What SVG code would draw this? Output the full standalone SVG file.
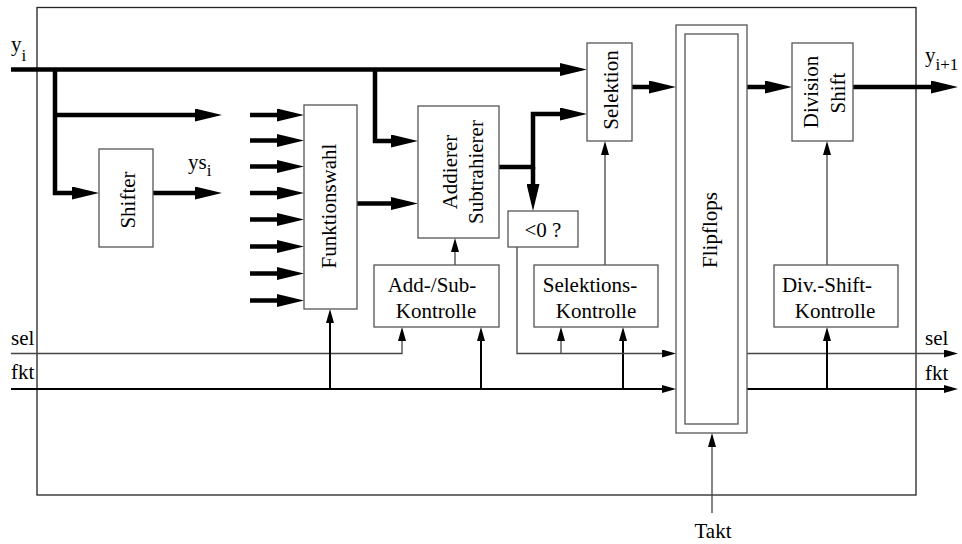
<svg xmlns="http://www.w3.org/2000/svg" width="962" height="544" viewBox="0 0 962 544">
<style>
text{font-family:"Liberation Serif","Times New Roman",serif;font-size:21px;fill:#000}
.sub{font-size:17px}
.box{fill:#fff;stroke:#555;stroke-width:1.3}
.bus{fill:none;stroke:#000;stroke-width:4.5;stroke-linejoin:miter}
.sig{fill:none;stroke:#444;stroke-width:1.3}
.fkt{fill:none;stroke:#000;stroke-width:2}
.m{text-anchor:middle}
</style>
<defs>
<marker id="ah" markerUnits="userSpaceOnUse" viewBox="0 0 27 13" markerWidth="27" markerHeight="13" refX="7" refY="6.5" orient="auto"><path d="M0,0 L27,6.5 L0,13 z" fill="#000"/></marker>
<marker id="at" markerUnits="userSpaceOnUse" viewBox="0 0 14 8" markerWidth="14" markerHeight="8" refX="4" refY="4" orient="auto"><path d="M0,0 L14,4 L0,8 z" fill="#000"/></marker>
</defs>
<rect id="frame" x="37" y="7.5" width="879" height="487.5" fill="none" stroke="#222" stroke-width="1.3"/>

<g id="connectors">
<path class="bus" marker-end="url(#ah)" d="M11,69.5 H567"/>
<path class="bus" marker-end="url(#ah)" d="M55,69.5 V193 H79"/>
<path class="bus" marker-end="url(#ah)" d="M55,115 H202"/>
<path class="bus" marker-end="url(#ah)" d="M153,193 H202"/>
<path class="bus" marker-end="url(#ah)" d="M250,115 H284"/>
<path class="bus" marker-end="url(#ah)" d="M250,140.5 H284"/>
<path class="bus" marker-end="url(#ah)" d="M250,166.5 H284"/>
<path class="bus" marker-end="url(#ah)" d="M250,193 H284"/>
<path class="bus" marker-end="url(#ah)" d="M250,219.5 H284"/>
<path class="bus" marker-end="url(#ah)" d="M250,246.5 H284"/>
<path class="bus" marker-end="url(#ah)" d="M250,273.5 H284"/>
<path class="bus" marker-end="url(#ah)" d="M250,300.5 H284"/>
<path class="bus" marker-end="url(#ah)" d="M357,203.5 H398"/>
<path class="bus" marker-end="url(#ah)" d="M375,69.5 V141 H398"/>
<path class="bus" marker-end="url(#ah)" d="M499,167 H533 V114 H567"/>
<path class="bus" marker-end="url(#ah)" d="M533,167 V191"/>
<path class="bus" marker-end="url(#ah)" d="M632,87 H656"/>
<path class="bus" marker-end="url(#ah)" d="M747,87 H772"/>
<path class="bus" marker-end="url(#ah)" d="M853,87 H938"/>

<path class="sig" marker-end="url(#at)" d="M11,353.5 H402 V337"/>
<path class="fkt" marker-end="url(#at)" d="M11,389 H666"/>
<path class="fkt" marker-end="url(#at)" d="M330,389 V319"/>
<path class="fkt" marker-end="url(#at)" d="M481,389 V337"/>
<path class="fkt" marker-end="url(#at)" d="M623,389 V337"/>
<path class="sig" marker-end="url(#at)" d="M517,247 V353.5 H666"/>
<path class="sig" marker-end="url(#at)" d="M561,353.5 V337"/>
<path class="sig" marker-end="url(#at)" d="M455,265 V248"/>
<path class="sig" marker-end="url(#at)" d="M605,265 V151"/>
<path class="sig" marker-end="url(#at)" d="M827,265 V151"/>
<path class="sig" marker-end="url(#at)" d="M747,353.5 H948"/>
<path class="fkt" marker-end="url(#at)" d="M747,389 H948"/>
<path class="fkt" marker-end="url(#at)" d="M827,389 V337"/>
<path class="sig" marker-end="url(#at)" d="M712,513 V443"/>
</g>

<g id="shifter">
<rect class="box" x="99" y="149" width="54" height="98"/>
<text class="m" transform="translate(135,200) rotate(-90)">Shifter</text>
</g>
<g id="funktionswahl">
<rect class="box" x="304" y="105" width="53" height="204"/>
<text class="m" transform="translate(336,206) rotate(-90)">Funktionswahl</text>
</g>
<g id="addierer">
<rect class="box" x="418" y="106" width="81" height="132"/>
<text class="m" transform="translate(457,172) rotate(-90)">Addierer</text>
<text class="m" transform="translate(483,172) rotate(-90)">Subtrahierer</text>
</g>
<g id="vergleich">
<rect class="box" x="508" y="211" width="70" height="36"/>
<text class="m" x="543" y="237">&lt;0 ?</text>
</g>
<g id="selektion">
<rect class="box" x="587" y="43" width="45" height="98"/>
<text class="m" transform="translate(618,90) rotate(-90)">Selektion</text>
</g>
<g id="flipflops">
<rect class="box" x="676" y="25" width="71" height="408"/>
<rect class="box" x="685" y="34" width="53" height="390"/>
<text class="m" transform="translate(717,230) rotate(-90)">Flipflops</text>
</g>
<g id="division">
<rect class="box" x="792" y="43" width="61" height="98"/>
<text class="m" transform="translate(818,92) rotate(-90)">Division</text>
<text class="m" transform="translate(845,93) rotate(-90)">Shift</text>
</g>
<g id="addsubkontrolle">
<rect class="box" x="374" y="265" width="125" height="62"/>
<text class="m" x="432" y="292">Add-/Sub-</text>
<text class="m" x="436" y="318">Kontrolle</text>
</g>
<g id="selektionskontrolle">
<rect class="box" x="534" y="265" width="124" height="62"/>
<text class="m" x="590" y="292">Selektions-</text>
<text class="m" x="596" y="318">Kontrolle</text>
</g>
<g id="divshiftkontrolle">
<rect class="box" x="774" y="265" width="124" height="62"/>
<text class="m" x="827" y="292">Div.-Shift-</text>
<text class="m" x="835" y="318">Kontrolle</text>
</g>

<g id="labels">
<text x="11" y="51">y<tspan class="sub" dy="10">i</tspan></text>
<text x="188" y="169">ys<tspan class="sub" dy="7">i</tspan></text>
<text x="925" y="62">y<tspan class="sub" dy="8">i+1</tspan></text>
<text x="11" y="345">sel</text>
<text x="11" y="379">fkt</text>
<text x="925" y="345">sel</text>
<text x="925" y="380">fkt</text>
<text class="m" x="713" y="538">Takt</text>
</g>
</svg>
